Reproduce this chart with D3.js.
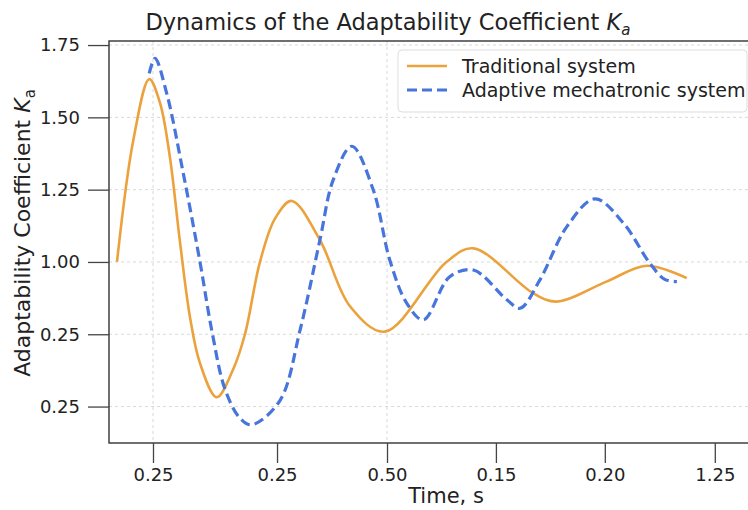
<!DOCTYPE html>
<html>
<head>
<meta charset="utf-8">
<script src="https://cdn.jsdelivr.net/npm/d3@7"></script>
<style>
  body { margin: 0; background: #fff; }
  svg { display: block; font-family: "DejaVu Sans", sans-serif; }
</style>
</head>
<body>
<div id="main"></div>
<script>
// time (s) and Ka
const tradTime  = [0.00, 0.296, 0.587, 0.782, 0.964, 1.145, 1.327, 1.509, 1.813, 2.115, 2.327, 2.60, 2.873, 3.176, 3.69, 4.24, 4.87, 5.99, 6.48, 7.56, 7.99, 8.90, 9.63, 10.36];
const tradValue = [1.00, 1.42, 1.632, 1.55, 1.36, 1.07, 0.81, 0.65, 0.532, 0.63, 0.75, 1.00, 1.15, 1.211, 1.076, 0.846, 0.759, 1.00, 1.047, 0.893, 0.863, 0.932, 0.987, 0.944];

const adaptTime  = [0.587, 0.691, 0.904, 1.205, 1.509, 1.727, 1.964, 2.236, 2.449, 2.96, 3.33, 3.69, 3.93, 4.27, 4.66, 4.96, 5.27, 5.57, 6.05, 6.48, 7.09, 7.33, 7.69, 8.18, 8.69, 9.21, 9.69, 9.96, 10.18];
const adaptValue = [1.652, 1.704, 1.583, 1.307, 1.00, 0.76, 0.56, 0.46, 0.437, 0.52, 0.765, 1.076, 1.283, 1.40, 1.249, 1.007, 0.857, 0.80, 0.949, 0.972, 0.869, 0.840, 0.938, 1.122, 1.218, 1.134, 0.995, 0.94, 0.932];

const xTickPos    = [0.655, 2.91, 4.91, 6.89, 8.87, 10.87];
const xTickLabels = ["0.25", "0.25", "0.50", "0.15", "0.20", "1.25"];
const xGridPos    = [0.655, 4.91];
const yTickPos    = [1.75, 1.50, 1.25, 1.00, 0.75, 0.50];
const yTickLabels = ["1.75", "1.50", "1.25", "1.00", "0.25", "0.25"];

const seriesNames = ["Traditional system", "Adaptive mechatronic system"];

const ctx = {
    W: 748, H: 510,
    left: 109, right: 783, top: 41, bottom: 443,
    orange: "#EBA23C", blue: "#4775DB"
};

function createViz(){
    const svg = d3.select("#main").append("svg")
        .attr("width", ctx.W).attr("height", ctx.H);

    const x = d3.scaleLinear().domain([-0.145, 12.11]).range([ctx.left, ctx.right]);
    const y = d3.scaleLinear().domain([0.374, 1.764]).range([ctx.bottom, ctx.top]);

    // grid
    const grid = svg.append("g").attr("stroke", "#d9d9d9").attr("stroke-width", 1)
        .attr("stroke-dasharray", "3,3");
    grid.selectAll(".gy").data(yTickPos).join("line")
        .attr("x1", ctx.left).attr("x2", ctx.right)
        .attr("y1", d => y(d)).attr("y2", d => y(d));
    grid.selectAll(".gx").data(xGridPos).join("line")
        .attr("x1", d => x(d)).attr("x2", d => x(d))
        .attr("y1", ctx.top).attr("y2", ctx.bottom);

    // lines
    const line = d3.line().x(d => x(d[0])).y(d => y(d[1])).curve(d3.curveCatmullRom.alpha(0.5));
    svg.append("path")
        .datum(d3.zip(tradTime, tradValue))
        .attr("fill", "none").attr("stroke", ctx.orange).attr("stroke-width", 2.6)
        .attr("d", line);
    svg.append("path")
        .datum(d3.zip(adaptTime, adaptValue))
        .attr("fill", "none").attr("stroke", ctx.blue).attr("stroke-width", 3.2)
        .attr("stroke-dasharray", "10,5")
        .attr("d", line);

    // frame
    svg.append("rect")
        .attr("x", ctx.left).attr("y", ctx.top)
        .attr("width", ctx.right - ctx.left).attr("height", ctx.bottom - ctx.top)
        .attr("fill", "none").attr("stroke", "#333").attr("stroke-width", 1.4);

    // axes
    const yAxis = svg.append("g")
        .attr("transform", `translate(${ctx.left},0)`)
        .call(d3.axisLeft(y).tickValues(yTickPos).tickSize(21).tickPadding(8)
              .tickFormat((d, i) => yTickLabels[i]));
    const xAxis = svg.append("g")
        .attr("transform", `translate(0,${ctx.bottom})`)
        .call(d3.axisBottom(x).tickValues(xTickPos).tickSize(20).tickPadding(5)
              .tickFormat((d, i) => xTickLabels[i]));
    [xAxis, yAxis].forEach(a => {
        a.select(".domain").remove();
        a.selectAll("line").attr("stroke", "#444").attr("stroke-width", 1.3);
        a.selectAll("text").attr("fill", "#222").style("font-size", "18px")
         .style("font-family", "DejaVu Sans");
    });

    // title
    const title = svg.append("text")
        .attr("x", 388).attr("y", 30)
        .attr("text-anchor", "middle")
        .style("font-size", "22.5px").attr("fill", "#222")
        .text("Dynamics of the Adaptability Coefficient ");
    title.append("tspan").style("font-style", "italic").text("K");
    title.append("tspan").attr("dy", 5).style("font-size", "15px").style("font-style", "italic").text("a");

    // axis labels
    svg.append("text")
        .attr("x", (ctx.left + ctx.right) / 2).attr("y", 503)
        .attr("text-anchor", "middle")
        .style("font-size", "21px").attr("fill", "#222")
        .text("Time, s");

    const yl = svg.append("text")
        .attr("transform", `translate(30,233) rotate(-90)`)
        .attr("text-anchor", "middle")
        .style("font-size", "22px").attr("fill", "#222")
        .text("Adaptability Coefficient ");
    yl.append("tspan").style("font-style", "italic").text("K");
    yl.append("tspan").attr("dy", 5).style("font-size", "15px").text("a");

    // legend
    const lg = svg.append("g").attr("transform", "translate(398,50)");
    lg.append("rect")
        .attr("width", 349).attr("height", 62).attr("rx", 4)
        .attr("fill", "#fff").attr("stroke", "#ddd").attr("stroke-width", 1);
    const items = lg.selectAll(".item").data(seriesNames).join("g")
        .attr("transform", (d, i) => `translate(0,${16 + i * 24})`);
    items.append("line")
        .attr("x1", 9).attr("x2", 49).attr("y1", 0).attr("y2", 0)
        .attr("stroke", (d, i) => i === 0 ? ctx.orange : ctx.blue)
        .attr("stroke-width", (d, i) => i === 0 ? 2.6 : 3.2)
        .attr("stroke-dasharray", (d, i) => i === 0 ? null : "10,5");
    items.append("text")
        .attr("x", 64).attr("y", 7)
        .style("font-size", "19px").attr("fill", "#222")
        .text(d => d);
}

createViz();
</script>
</body>
</html>
